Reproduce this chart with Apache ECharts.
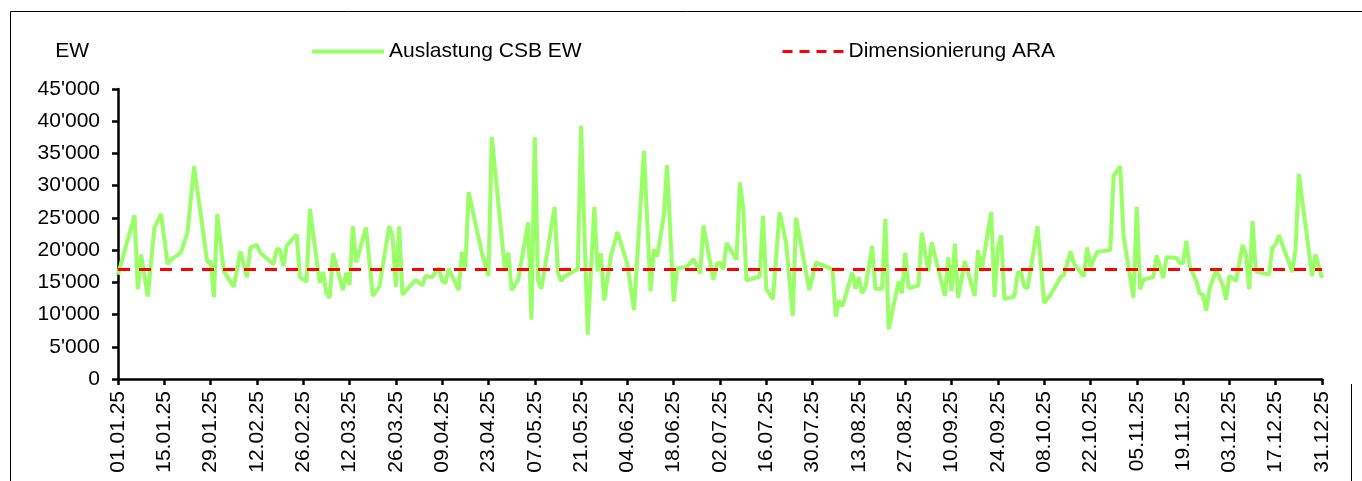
<!DOCTYPE html>
<html>
<head>
<meta charset="utf-8">
<script src="https://cdn.jsdelivr.net/npm/echarts@6.0.0/dist/echarts.min.js"></script>
<style>
  html, body { margin: 0; padding: 0; background: #fff; }
  #chart { width: 1362px; height: 481px; }
</style>
</head>
<body>
<div id="chart"></div>
<script>
// day offset from 01.01.25 for every measurement
const days = [0,5,6,7,9,11,13,15,16,19,21,23,27,28,29,30,32,35,37,39,40,42,43,47,48,49,50,51,54,55,57,58,
  61,62,63,64,65,68,69,70,71,72,75,77,79,82,83,84,85,86,90,92,93,95,97,98,99,100,103,104,105,106,110,112,113,
  117,118,119,121,124,125,126,127,128,132,133,134,135,137,139,140,142,144,145,146,147,149,151,154,156,159,161,
  162,163,165,166,168,169,172,174,176,177,180,181,182,183,184,187,188,189,190,194,195,196,198,200,202,204,205,
  209,211,216,217,218,219,222,223,224,225,226,228,229,231,232,233,236,237,238,239,242,243,245,246,250,251,252,
  253,254,256,259,260,261,264,265,266,267,268,271,272,273,274,275,278,280,282,285,286,288,289,292,293,294,296,
  300,301,303,304,307,308,309,310,313,314,316,317,320,321,322,323,324,326,327,328,329,330,332,334,335,336,338,
  340,341,342,343,344,348,349,350,351,355,356,357,361,362,364];

const auslastung = [16200,25400,13900,19300,12800,23500,25600,17800,18500,19600,22700,33000,18100,18300,12700,25600,
  16700,14300,19800,15800,20400,20800,19600,17800,20200,20000,17500,20700,22400,15800,15100,26400,
  14900,16600,13300,12600,19500,13800,16500,14600,23700,18100,23500,12900,14300,23700,22200,14300,23700,13100,
  15400,14500,16000,15800,17300,15200,14900,17100,13800,19700,17200,29000,19600,16000,37600,
  16900,19600,13800,15400,24300,9200,37500,15200,14000,26700,16500,15200,15900,16500,17100,39300,6900,26700,
  16700,19500,12200,19000,22800,17800,10700,35400,13600,
  20100,19000,25300,33200,12000,17200,17400,18600,16400,23800,15400,17800,18100,17000,21100,18500,30500,26600,
  15300,15900,25300,14000,12400,25900,21100,9800,25000,
  13800,18100,17000,9700,12200,11300,16500,14000,15800,13300,14300,20600,14000,14000,24800,7700,15200,13300,
  19600,14100,14500,22700,16700,21200,12900,18900,13600,
  21000,12600,18300,12900,20000,16700,25900,12700,20200,22300,12400,12800,16500,16600,14300,14100,23700,11800,
  13100,15800,16200,19800,17900,15900,20400,17400,19700,
  20000,31500,33000,22200,12600,26700,13900,15400,15800,19200,15700,18900,18800,18000,18000,21400,17500,15200,
  13300,13100,10600,14000,16900,14600,12300,16000,15200,
  20800,19300,13900,24500,16700,16200,20400,20900,22300,16600,20100,31800,16000,19300,15700];

const dimensionierung = 17000;
const seriesNames = ['Auslastung CSB EW', 'Dimensionierung ARA'];

const font = "'Liberation Sans', Arial, sans-serif";
const start = Date.UTC(2025, 0, 1);

function fmtDate(v) {
  const d = new Date(start + v * 86400000);
  const p = n => String(n).padStart(2, '0');
  return p(d.getUTCDate()) + '.' + p(d.getUTCMonth() + 1) + '.' + String(d.getUTCFullYear()).slice(2);
}
function fmtNum(v) {
  return String(v).replace(/\B(?=(\d{3})+(?!\d))/g, "'");
}

const chart = echarts.init(document.getElementById('chart'), null, { renderer: 'canvas' });

const legendText = { fontSize: 21, fontFamily: font, color: '#000' };

chart.setOption({
  animation: false,
  textStyle: { fontFamily: font, color: '#000' },
  graphic: [
    {
      type: 'rect', silent: true,
      shape: { x: 10.5, y: 11.5, width: 1500, height: 600 },
      style: { fill: null, stroke: '#000', lineWidth: 1 }
    },
    {
      type: 'line', silent: true,
      shape: { x1: 1351.5, y1: 384, x2: 1351.5, y2: 481 },
      style: { stroke: '#000', lineWidth: 1 }
    }
  ],
  legend: [
    {
      data: [seriesNames[0]], left: 305, top: 36,
      itemWidth: 72, itemHeight: 14, itemGap: 0,
      itemStyle: { opacity: 0 },
      lineStyle: { width: 4 },
      textStyle: legendText
    },
    {
      data: [seriesNames[1]], left: 776, top: 36,
      itemWidth: 61, itemHeight: 14, itemGap: 0,
      itemStyle: { opacity: 0 },
      lineStyle: { width: 3, type: [10, 7] },
      textStyle: legendText
    }
  ],
  grid: { left: 118, right: 40, top: 89, bottom: 102 },
  xAxis: {
    type: 'value',
    min: 0, max: 364, interval: 14,
    axisLine: { lineStyle: { color: '#000', width: 2.5 } },
    axisTick: { show: true, length: 6, lineStyle: { color: '#000', width: 2.5 } },
    splitLine: { show: false },
    axisLabel: {
      rotate: 90, margin: 12, fontSize: 21, color: '#000', fontFamily: font,
      formatter: fmtDate
    }
  },
  yAxis: {
    type: 'value',
    min: 0, max: 45000, interval: 5000,
    name: 'EW', nameLocation: 'end', nameGap: 38,
    nameTextStyle: { fontSize: 21, fontFamily: font, color: '#000', align: 'right', verticalAlign: 'middle', padding: [0, 29, 0, 0] },
    axisLine: { show: true, lineStyle: { color: '#000', width: 2.5 } },
    axisTick: { show: true, length: 6, lineStyle: { color: '#000', width: 2.5 } },
    splitLine: { show: false },
    axisLabel: { margin: 18, fontSize: 21, color: '#000', fontFamily: font, formatter: fmtNum }
  },
  series: [
    {
      name: seriesNames[0],
      type: 'line',
      symbol: 'none',
      data: days.map((d, i) => [d, auslastung[i]]),
      lineStyle: { color: '#99ff66', width: 4 },
      itemStyle: { color: '#99ff66' },
      z: 2
    },
    {
      name: seriesNames[1],
      type: 'line',
      symbol: 'none',
      data: [[0, dimensionierung], [364, dimensionierung]],
      lineStyle: { color: '#ff0000', width: 3, type: [12, 9] },
      itemStyle: { color: '#ff0000' },
      z: 3
    }
  ]
});
</script>
</body>
</html>
